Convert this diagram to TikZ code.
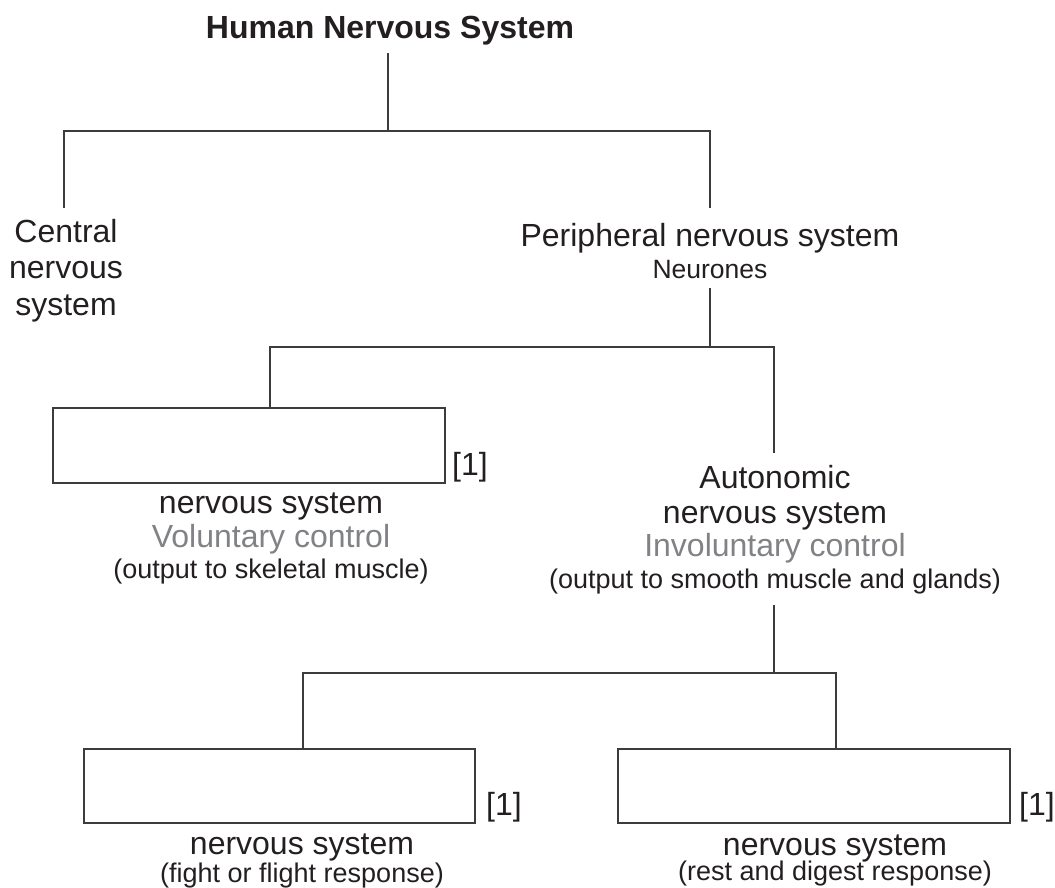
\documentclass[tikz,border=0pt]{standalone}
\usepackage{fontspec}
\setmainfont{Liberation Sans}
\definecolor{ink}{HTML}{231F20}
\definecolor{linec}{HTML}{3C3C3E}
\definecolor{greytext}{HTML}{808285}
\begin{document}
\begin{tikzpicture}[x=1pt,y=-1pt,
  txt/.style={inner sep=0pt, anchor=base, text=ink, font=\fontsize{32}{38}\selectfont},
  smalltxt/.style={txt, font=\fontsize{27}{32}\selectfont},
  greytxt/.style={txt, text=greytext},
  marktxt/.style={txt, anchor=base west},
  conn/.style={draw=linec, line width=1.5pt},
  answerbox/.style={draw=linec, line width=1.5pt, rectangle, inner sep=0pt, outer sep=0pt, minimum width=392pt, minimum height=75pt}
]
\useasboundingbox (0,0) rectangle (1055,888);

% title
\node[txt, font=\bfseries\fontsize{32}{38}\selectfont] (title) at (390,39) {Human Nervous System};

% level 1
\node[txt] (cns1) at (66,242) {Central};
\node[txt] (cns2) at (66,278) {nervous};
\node[txt] (cns3) at (66,315) {system};
\node[txt] (pns) at (710,246) {Peripheral nervous system};
\node[txt, font=\fontsize{26.5}{32}\selectfont] (neur) at (710,278) {Neurones};

% level 2
\node[answerbox] (box1) at (249,445.5) {};
\node[marktxt] (m1) at (452,475) {[1]};
\node[txt] (b1a) at (271,513) {nervous system};
\node[greytxt] (b1b) at (271,547) {Voluntary control};
\node[smalltxt] (b1c) at (271,578) {(output to skeletal muscle)};

\node[txt] (ans1) at (775,488) {Autonomic};
\node[txt] (ans2) at (775,523) {nervous system};
\node[greytxt] (ans3) at (775,556) {Involuntary control};
\node[smalltxt] (ans4) at (775,588) {(output to smooth muscle and glands)};

% level 3
\node[answerbox, minimum height=74pt, minimum width=391pt] (box2) at (279.5,786) {};
\node[marktxt] (m2) at (486,815) {[1]};
\node[txt] (b2a) at (302,854) {nervous system};
\node[smalltxt] (b2b) at (302,882) {(fight or flight response)};

\node[answerbox, minimum height=74pt] (box3) at (814,786) {};
\node[marktxt] (m3) at (1019,815) {[1]};
\node[txt] (b3a) at (835,855) {nervous system};
\node[smalltxt] (b3b) at (835,880) {(rest and digest response)};

% connectors
\coordinate (t0) at (388,53);
\coordinate (j0) at (388,131);
\coordinate (c0) at (64,131);
\coordinate (c1) at (64,208);
\coordinate (p0) at (710,131);
\coordinate (p1) at (710,208);
\draw[conn] (t0) -- (j0);
\draw[conn] (c1) -- (c0) -- (p0) -- (p1);

\coordinate (n0) at (710,288);
\coordinate (j1) at (710,347);
\coordinate (s0) at (270,347);
\coordinate (a0) at (774,347);
\coordinate (a1) at (774,453);
\draw[conn] (n0) -- (j1);
\draw[conn] (box1.north -| s0) -- (s0) -- (a0) -- (a1);

\coordinate (a2) at (774,605);
\coordinate (j2) at (774,673);
\coordinate (l0) at (303,673);
\coordinate (r0) at (836,673);
\draw[conn] (a2) -- (j2);
\draw[conn] (box2.north -| l0) -- (l0) -- (r0) -- (box3.north -| r0);
\end{tikzpicture}
\end{document}
